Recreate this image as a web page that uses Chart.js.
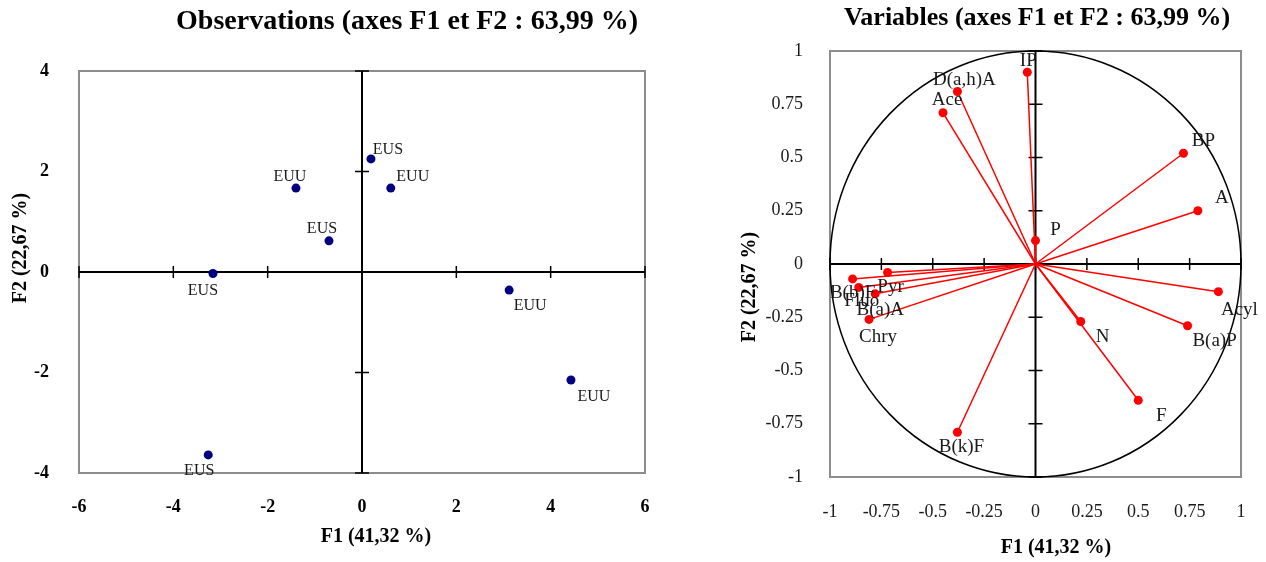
<!DOCTYPE html>
<html>
<head>
<meta charset="utf-8">
<script src="https://cdn.jsdelivr.net/npm/chart.js@4.4.0/dist/chart.umd.min.js"></script>
<style>
    body { margin: 0; background: #fff; }
    #left { position: absolute; left: 0; top: 0; width: 660px; height: 562px; }
    #right { position: absolute; left: 660px; top: 0; width: 606px; height: 562px; }
</style>
</head>
<body>
<div id="left"><canvas id="obsChart"></canvas></div>
<div id="right"><canvas id="varChart"></canvas></div>
<script>
// observations (individus)
const obsLabels = ['EUS', 'EUU', 'EUU', 'EUS', 'EUS', 'EUU', 'EUU', 'EUS'];
const obsF1 = [0.19, -1.40, 0.61, -0.70, -3.16, 3.12, 4.43, -3.26];
const obsF2 = [2.25, 1.67, 1.67, 0.62, -0.03, -0.36, -2.15, -3.64];
const obsXTicks = [-6, -4, -2, 0, 2, 4, 6];
const obsYTicks = [-4, -2, 0, 2, 4];

// variables (HAP)
const varLabels = ['IP', 'D(a,h)A', 'Ace', 'BP', 'A', 'P', 'Acyl', 'B(a)P', 'N', 'F',
    'B(k)F', 'Pyr', 'B(b)F', 'Fluo', 'B(a)A', 'Chry'];
const varF1 = [-0.04, -0.38, -0.45, 0.72, 0.79, 0.00, 0.89, 0.74, 0.22, 0.50,
    -0.38, -0.72, -0.89, -0.86, -0.78, -0.81];
const varF2 = [0.90, 0.81, 0.71, 0.52, 0.25, 0.11, -0.13, -0.29, -0.27, -0.64,
    -0.79, -0.04, -0.07, -0.11, -0.14, -0.26];
const varTicks = [-1, -0.75, -0.5, -0.25, 0, 0.25, 0.5, 0.75, 1];

// where each label sits relative to its point (px)
const obsLabelOffsets = [[17, -9], [-6, -11], [22, -11], [-7, -12], [-10, 17], [21, 16], [23, 17], [-9, 16]];
const varLabelOffsets = [[1, -11], [7, -11], [4, -13], [20, -12], [24, -13], [20, -11], [21, 18], [27, 15],
    [22, 16], [23, 16], [4, 15], [3, 14], [0, 14], [3, 14], [5, 16], [9, 18]];

const FONT = "'Liberation Serif', 'Times New Roman', serif";

function axesPlugin(xTicks, yTicks, withCircle) {
    return {
        id: 'pcaAxes',
        beforeDatasetsDraw(chart) {
            const { ctx, chartArea: a, scales: { x, y } } = chart;
            const x0 = x.getPixelForValue(0);
            const y0 = y.getPixelForValue(0);
            ctx.save();
            ctx.strokeStyle = '#8c8c8c';
            ctx.lineWidth = 2;
            ctx.strokeRect(a.left, a.top, a.right - a.left, a.bottom - a.top);
            if (withCircle) {
                ctx.strokeStyle = '#000';
                ctx.lineWidth = 1.5;
                ctx.beginPath();
                ctx.ellipse(x0, y0, x.getPixelForValue(1) - x0, y0 - y.getPixelForValue(1), 0, 0, Math.PI * 2);
                ctx.stroke();
            }
            ctx.strokeStyle = '#000';
            ctx.lineWidth = 2;
            ctx.beginPath();
            ctx.moveTo(a.left, y0); ctx.lineTo(a.right, y0);
            ctx.moveTo(x0, a.top); ctx.lineTo(x0, a.bottom);
            ctx.stroke();
            ctx.lineWidth = 1.5;
            ctx.beginPath();
            xTicks.forEach(v => {
                const px = x.getPixelForValue(v);
                ctx.moveTo(px, y0 - 6); ctx.lineTo(px, y0 + 6);
            });
            yTicks.forEach(v => {
                const py = y.getPixelForValue(v);
                ctx.moveTo(x0 - 7, py); ctx.lineTo(x0 + 7, py);
            });
            ctx.stroke();
            ctx.restore();
        }
    };
}

function labelPlugin(names, offsets, size) {
    return {
        id: 'pointNames',
        afterDatasetsDraw(chart) {
            const ctx = chart.ctx;
            ctx.save();
            ctx.font = size + 'px ' + FONT;
            ctx.fillStyle = '#1a1a1a';
            ctx.textAlign = 'center';
            ctx.textBaseline = 'middle';
            names.forEach((name, i) => {
                const metas = chart.getSortedVisibleDatasetMetas();
                const pt = metas.length > 1 ? metas[i].data[1] : metas[0].data[i];
                ctx.fillText(name, pt.x + offsets[i][0], pt.y + offsets[i][1]);
            });
            ctx.restore();
        }
    };
}

// titles drawn at fixed spots so they line up like the original figure
function textPlugin(items) {
    return {
        id: 'figureText',
        afterDraw(chart) {
            const ctx = chart.ctx;
            items.forEach(t => {
                ctx.save();
                ctx.font = t.font;
                ctx.fillStyle = '#000';
                ctx.textAlign = 'center';
                ctx.textBaseline = 'middle';
                ctx.translate(t.x, t.y);
                if (t.rotate) ctx.rotate(-Math.PI / 2);
                ctx.fillText(t.text, 0, 0);
                ctx.restore();
            });
        }
    };
}

function tickList(list) {
    return scale => { scale.ticks = list.map(v => ({ value: v })); };
}

// fixed axis box, no extra room for the end labels
function fitX(h) {
    return s => { s.height = h; s.paddingLeft = 0; s.paddingRight = 0; };
}

new Chart(document.getElementById('obsChart'), {
    type: 'scatter',
    data: {
        datasets: [{
            data: obsF1.map((v, i) => ({ x: v, y: obsF2[i] })),
            pointRadius: 4.5,
            pointBackgroundColor: '#000080',
            pointBorderWidth: 0
        }]
    },
    options: {
        responsive: true,
        maintainAspectRatio: false,
        animation: false,
        layout: { padding: { left: 0, right: 15, top: 71, bottom: 0 } },
        plugins: { legend: { display: false }, tooltip: { enabled: false } },
        scales: {
            x: {
                min: -6, max: 6,
                afterBuildTicks: tickList(obsXTicks),
                afterFit: fitX(89),
                grid: { display: false },
                border: { display: false },
                ticks: { padding: 16, color: '#000', font: { family: FONT, size: 18, weight: 'bold' }, callback: v => String(v) }
            },
            y: {
                min: -4, max: 4,
                afterBuildTicks: tickList(obsYTicks),
                afterFit: s => { s.width = 79; },
                grid: { display: false },
                border: { display: false },
                ticks: { padding: 22, color: '#000', font: { family: FONT, size: 18, weight: 'bold' }, callback: v => String(v) }
            }
        }
    },
    plugins: [
        axesPlugin(obsXTicks, obsYTicks, false),
        labelPlugin(obsLabels, obsLabelOffsets, 16),
        textPlugin([
            { text: 'Observations (axes F1 et F2 : 63,99 %)', x: 407, y: 22, font: 'bold 28px ' + FONT },
            { text: 'F1 (41,32 %)', x: 376, y: 537, font: 'bold 20px ' + FONT },
            { text: 'F2 (22,67 %)', x: 21, y: 248, rotate: true, font: 'bold 20px ' + FONT }
        ])
    ]
});

new Chart(document.getElementById('varChart'), {
    type: 'scatter',
    data: {
        datasets: varLabels.map((name, i) => ({
            label: name,
            data: [{ x: 0, y: 0 }, { x: varF1[i], y: varF2[i] }],
            showLine: true,
            borderColor: '#ff0000',
            borderWidth: 1.5,
            pointRadius: [0, 4.5],
            pointBackgroundColor: '#ff0000',
            pointBorderWidth: 0
        }))
    },
    options: {
        responsive: true,
        maintainAspectRatio: false,
        animation: false,
        layout: { padding: { left: 0, right: 25, top: 51, bottom: 0 } },
        plugins: { legend: { display: false }, tooltip: { enabled: false } },
        scales: {
            x: {
                min: -1, max: 1,
                afterBuildTicks: tickList(varTicks),
                afterFit: fitX(85),
                grid: { display: false },
                border: { display: false },
                ticks: { padding: 16, color: '#1a1a1a', font: { family: FONT, size: 18 }, callback: v => String(v) }
            },
            y: {
                min: -1, max: 1,
                afterBuildTicks: tickList(varTicks),
                afterFit: s => { s.width = 170; },
                grid: { display: false },
                border: { display: false },
                ticks: { padding: 19, color: '#1a1a1a', font: { family: FONT, size: 18 }, callback: v => String(v) }
            }
        }
    },
    plugins: [
        axesPlugin(varTicks, varTicks, true),
        labelPlugin(varLabels, varLabelOffsets, 19),
        textPlugin([
            { text: 'Variables (axes F1 et F2 : 63,99 %)', x: 377, y: 18, font: 'bold 26px ' + FONT },
            { text: 'F1 (41,32 %)', x: 396, y: 548, font: 'bold 20px ' + FONT },
            { text: 'F2 (22,67 %)', x: 90, y: 287, rotate: true, font: 'bold 20px ' + FONT }
        ])
    ]
});
</script>
</body>
</html>
